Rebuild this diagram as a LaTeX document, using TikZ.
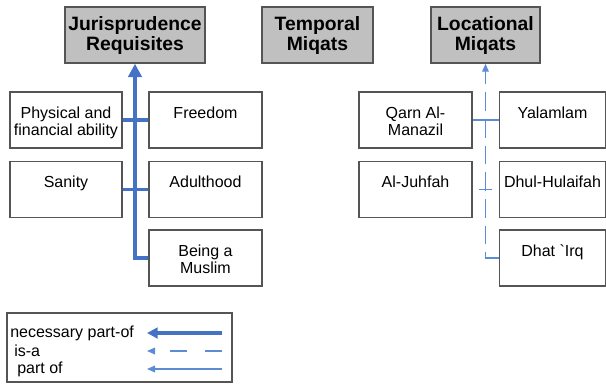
\documentclass[tikz,border=0pt]{standalone}
\usepackage{fontspec}
\setmainfont{Liberation Sans}
\usetikzlibrary{arrows.meta, positioning, calc}
\definecolor{cBlue}{RGB}{68,114,196}
\definecolor{cLight}{RGB}{92,140,212}
\definecolor{cHead}{RGB}{192,192,192}
\definecolor{cEdge}{RGB}{85,85,85}
\tikzset{
	head/.style   ={rectangle, draw=cEdge, line width=1.1pt, fill=cHead, minimum height=42pt, align=center, inner sep=0pt, font=\fontsize{14.5}{15}\selectfont\bfseries},
	item/.style   ={rectangle, draw=cEdge, line width=1pt, fill=white, minimum height=42pt, inner sep=0pt},
	itemtext/.style={anchor=north, align=center, yshift=-8pt, font=\fontsize{12}{13}\selectfont},
	legtext/.style={anchor=west, inner sep=0pt, font=\fontsize{12}{13}\selectfont},
	% link styles
	necpart/.style={cBlue, line width=2.4pt},
	ispart/.style ={cLight, line width=0.9pt},
	isa/.style    ={cLight, line width=0.9pt, dash pattern=on 14pt off 6pt},
	bigtip/.style ={-{Triangle[length=10pt, width=10pt]}},
	smalltip/.style={-{Triangle[length=6pt, width=5pt]}},
}
\begin{document}
\begin{tikzpicture}[x=0.75pt, y=-0.75pt]
	\useasboundingbox (0,0) rectangle (606,383);
	% category heads
	\node[head, minimum width=105pt] (jur) at (135,35) {Jurisprudence\\Requisites};
	\node[head, minimum width=83pt] (temp) at (317.5,35) {Temporal\\Miqats};
	\node[head, minimum width=82pt] (loc) at (485.5,35) {Locational\\Miqats};
	% requisites
	\node[item, minimum width=84pt, label={[itemtext]north:{Physical and\\financial ability}}] (phys) at (66,120) {};
	\node[item, minimum width=84.75pt, label={[itemtext]north:{Freedom}}] (free) at (205.5,120) {};
	\node[item, minimum width=84pt, label={[itemtext]north:{Sanity}}] (sanity) at (66,189.5) {};
	\node[item, minimum width=84.75pt, label={[itemtext]north:{Adulthood}}] (adult) at (205.5,189.5) {};
	\node[item, minimum width=84.75pt, label={[itemtext]north:{Being a\\Muslim}}] (muslim) at (205.5,258) {};
	% miqats
	\node[item, minimum width=84.75pt, label={[itemtext]north:{Qarn Al-\\Manazil}}] (qarn) at (415.5,120) {};
	\node[item, minimum width=80pt, label={[itemtext]north:{Yalamlam}}] (yalam) at (552.5,120) {};
	\node[item, minimum width=84.75pt, label={[itemtext]north:{Al-Juhfah}}] (juh) at (415.5,189.5) {};
	\node[item, minimum width=80pt, label={[itemtext]north:{Dhul-Hulaifah}}] (dhul) at (552.5,189.5) {};
	\node[item, minimum width=80pt, label={[itemtext]north:{Dhat \textasciigrave Irq}}] (dhat) at (552.5,258) {};
	% links
	\draw[necpart, bigtip] (muslim.west) -| (jur.south);
	\draw[necpart] (phys.east) -- (free.west);
	\draw[necpart] (sanity.east) -- (adult.west);
	\draw[isa, smalltip] (dhat.west) -| (loc.south);
	\draw[ispart] (qarn.east) -- (yalam.west);
	\draw[ispart] ($(juh.east)!0.25!(dhul.west)$) -- ($(juh.east)!0.75!(dhul.west)$);
	% legend
	\node[rectangle, draw=cEdge, line width=1pt, minimum width=168.75pt, minimum height=51.75pt, inner sep=0pt] (legend) at (119.5,347.5) {};
	\node[legtext] (lnec) at (10,333) {necessary part-of};
	\node[legtext] (lisa) at (14,351) {is-a};
	\node[legtext] (lpart) at (17,369) {part of};
	\coordinate (necR) at (222,333);
	\coordinate (necL) at (147,333);
	\coordinate (isaR) at (222,351);
	\coordinate (isaL) at (147,351);
	\coordinate (partR) at (222,369);
	\coordinate (partL) at (147,369);
	\draw[necpart, -{Triangle[length=8pt, width=8pt]}] (necR) -- (necL);
	\draw[isa, dash pattern=on 13pt off 13pt, smalltip] (isaR) -- (isaL);
	\draw[ispart, smalltip] (partR) -- (partL);
\end{tikzpicture}
\end{document}
